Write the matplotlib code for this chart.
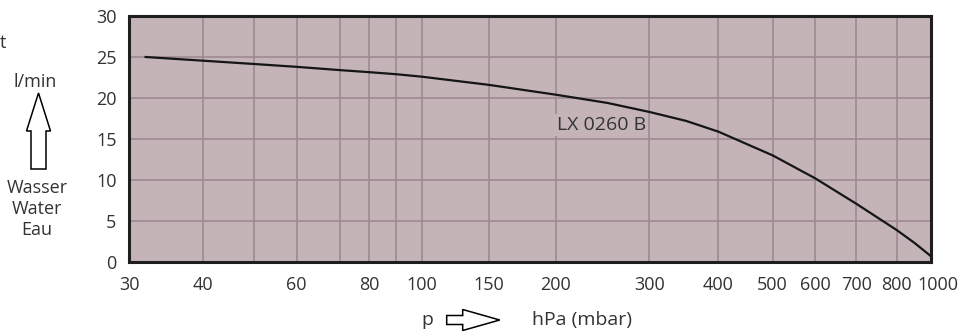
import numpy as np
import matplotlib
matplotlib.use("Agg")
import matplotlib.pyplot as plt
import matplotlib.transforms as mtrans
from matplotlib.patches import FancyArrow

# pump curve LX 0260 B : water flow vs pressure
pressure = [32, 40, 50, 60, 70, 80, 90, 100, 150, 200, 250, 300, 350,
            400, 500, 600, 700, 800, 900, 1000]
flow = [25.0, 24.55, 24.15, 23.8, 23.4, 23.15, 22.9, 22.6, 21.6, 20.4, 19.4, 18.3, 17.2,
        15.9, 13.0, 10.2, 7.1, 3.9, 2.3, 0.7]

grid_p = [30, 40, 50, 60, 70, 80, 90, 100, 150, 200, 300, 400, 500, 600, 700, 800, 1000]
grid_labels = ["30", "40", "", "60", "", "80", "", "100", "150", "200", "300",
               "400", "500", "600", "700", "800", "1000"]
y_ticks = [0, 5, 10, 15, 20, 25, 30]

# the printed pressure axis is not a clean log scale, so map it piecewise
grid_pos = [0, 0.0923, 0.1555, 0.2091, 0.2631, 0.2996, 0.3333, 0.3650, 0.4489,
            0.5324, 0.6488, 0.7348, 0.8026, 0.8557, 0.9069, 0.9572, 1.0]
lp = np.log10(grid_p)
gp = np.array(grid_pos)


def fwd(p):
    x = np.log10(np.clip(np.asarray(p, dtype=float), 1e-6, None))
    out = np.interp(x, lp, gp)
    lo = x < lp[0]
    hi = x > lp[-1]
    out[lo] = gp[0] + (x[lo] - lp[0]) * (gp[1] - gp[0]) / (lp[1] - lp[0])
    out[hi] = gp[-1] + (x[hi] - lp[-1]) * (gp[-1] - gp[-2]) / (lp[-1] - lp[-2])
    return out


def inv(v):
    v = np.asarray(v, dtype=float)
    out = np.interp(v, gp, lp)
    lo = v < gp[0]
    hi = v > gp[-1]
    out[lo] = lp[0] + (v[lo] - gp[0]) * (lp[1] - lp[0]) / (gp[1] - gp[0])
    out[hi] = lp[-1] + (v[hi] - gp[-1]) * (lp[-1] - lp[-2]) / (gp[-1] - gp[-2])
    return 10 ** out


plt.rcParams['font.family'] = ['Open Sans', 'DejaVu Sans']
txt = '#333333'
bg = '#c4b4b8'
gridc = '#9e8992'

fig = plt.figure(figsize=(9.64, 3.33), dpi=100)
ax = fig.add_axes([129 / 964, 1 - 262 / 333, 802 / 964, 246 / 333])
ax.set_facecolor(bg)
ax.set_xscale('function', functions=(fwd, inv))
ax.set_xlim(30, 1000)
ax.set_ylim(0, 30)

ax.set_xticks(grid_p)
ax.set_xticklabels(grid_labels)
ax.set_yticks(y_ticks)
ax.minorticks_off()
ax.tick_params(axis='both', length=0, labelsize=13, colors=txt)
ax.tick_params(axis='x', pad=10)
ax.tick_params(axis='y', pad=9)
# "1000" sits a little to the right in the original
lbl = ax.get_xticklabels()[-1]
lbl.set_transform(lbl.get_transform() + mtrans.ScaledTranslation(0.07, 0, fig.dpi_scale_trans))
ax.grid(True, color=gridc, lw=1.2)
ax.set_axisbelow(True)
for s in ax.spines.values():
    s.set_linewidth(2.2)
    s.set_color('#1e1e1e')

ax.plot(pressure, flow, color='#151515', lw=1.6, zorder=3)
ax.text(201, 16.7, "LX 0260 B", fontsize=14, color=txt, ha='left', va='center',
        bbox=dict(boxstyle='square,pad=0.1', fc=bg, ec='none'), zorder=2.5)

# left annotation
fig.text(0, 1 - 43 / 333, "t", fontsize=13, color=txt, ha='left', va='center')
fig.text(35 / 964, 1 - 82 / 333, "l/min", fontsize=13, color=txt, ha='center', va='center')
for lab, yy in [("Wasser", 188), ("Water", 209), ("Eau", 230)]:
    fig.text(37 / 964, 1 - yy / 333, lab, fontsize=13, color=txt, ha='center', va='center')

fig.add_artist(FancyArrow(0.385, 1.64, 0, 0.76, width=0.15, head_width=0.24,
                          head_length=0.38, length_includes_head=True,
                          fc='white', ec='black', lw=1.1,
                          transform=fig.dpi_scale_trans))

# bottom annotation
fig.text(427 / 964, 1 - 320 / 333, "p", fontsize=14, color=txt, ha='center', va='center')
fig.add_artist(FancyArrow(4.467, 0.13, 0.53, 0, width=0.09, head_width=0.21,
                          head_length=0.37, length_includes_head=True,
                          fc='white', ec='black', lw=1.1,
                          transform=fig.dpi_scale_trans))
fig.text(532 / 964, 1 - 320 / 333, "hPa (mbar)", fontsize=14, color=txt, ha='left', va='center')

fig.savefig("out.png", dpi=100)
